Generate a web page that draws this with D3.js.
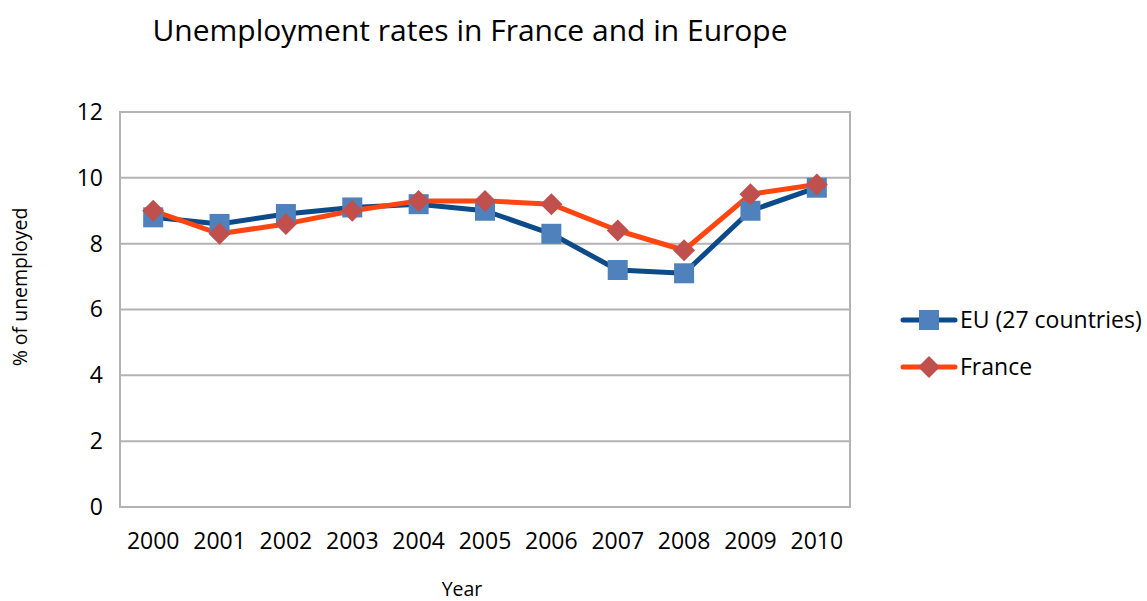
<!DOCTYPE html>
<html>
<head>
<meta charset="utf-8">
<script src="https://cdn.jsdelivr.net/npm/d3@7"></script>
<style>
  body { margin: 0; background: #fff; }
  svg { display: block; font-family: "Open Sans", "Liberation Sans", sans-serif; }
</style>
</head>
<body>
<svg id="chart" width="1147" height="601"></svg>
<script>
// Unemployment rates, % of labour force
const years = ["2000","2001","2002","2003","2004","2005","2006","2007","2008","2009","2010"];
const euValues = [8.8, 8.6, 8.9, 9.1, 9.2, 9.0, 8.3, 7.2, 7.1, 9.0, 9.7];
const franceValues = [9.0, 8.3, 8.6, 9.0, 9.3, 9.3, 9.2, 8.4, 7.8, 9.5, 9.8];
const yTicks = [0, 2, 4, 6, 8, 10, 12];
const seriesNames = ["EU (27 countries)", "France"];

const svg = d3.select("#chart");
const plot = { left: 120, right: 850, top: 112, bottom: 507 };

const x = d3.scaleBand().domain(years).range([plot.left, plot.right]);
const y = d3.scaleLinear().domain([0, 12]).range([plot.bottom, plot.top]);

// Title
svg.append("text")
  .attr("x", 470).attr("y", 41)
  .attr("text-anchor", "middle")
  .attr("font-size", 30)
  .attr("fill", "#000")
  .text("Unemployment rates in France and in Europe");

// Horizontal gridlines
svg.append("g")
  .selectAll("line")
  .data(yTicks)
  .join("line")
  .attr("x1", plot.left).attr("x2", plot.right)
  .attr("y1", d => y(d)).attr("y2", d => y(d))
  .attr("stroke", "#b3b3b3").attr("stroke-width", 2);

// Plot frame
svg.append("rect")
  .attr("x", plot.left).attr("y", plot.top)
  .attr("width", plot.right - plot.left).attr("height", plot.bottom - plot.top)
  .attr("fill", "none").attr("stroke", "#b3b3b3").attr("stroke-width", 2);

// Y axis
const yAxis = svg.append("g")
  .attr("transform", `translate(${plot.left},0)`)
  .call(d3.axisLeft(y).tickValues(yTicks).tickSize(0).tickPadding(17));
yAxis.select(".domain").remove();
yAxis.selectAll("text").attr("font-size", 23).attr("fill", "#000")
  .attr("font-family", "\"Open Sans\", sans-serif");

// X axis
const xAxis = svg.append("g")
  .attr("transform", `translate(0,${plot.bottom})`)
  .call(d3.axisBottom(x).tickSize(0).tickPadding(26));
xAxis.select(".domain").remove();
xAxis.selectAll("text").attr("font-size", 23).attr("fill", "#000")
  .attr("font-family", "\"Open Sans\", sans-serif");

// Axis titles
svg.append("text")
  .attr("x", 462).attr("y", 596)
  .attr("text-anchor", "middle").attr("font-size", 19.5)
  .text("Year");
svg.append("text")
  .attr("transform", "translate(27,287) rotate(-90)")
  .attr("text-anchor", "middle").attr("font-size", 19.5)
  .text("% of unemployed");

const cx = d => x(d) + x.bandwidth() / 2;
const line = d3.line().x((d, i) => cx(years[i])).y(d => y(d));

const series = [
  { name: seriesNames[0], values: euValues, stroke: "#0c4a8a", fill: "#4f81bd", marker: "square" },
  { name: seriesNames[1], values: franceValues, stroke: "#ff4510", fill: "#c0504d", marker: "diamond" }
];

function drawMarker(g, type, px, py, fill) {
  if (type === "square") {
    g.append("rect").attr("x", px - 10).attr("y", py - 10)
      .attr("width", 20).attr("height", 20).attr("fill", fill);
  } else {
    const r = 11;
    g.append("path")
      .attr("d", `M${px},${py - r}L${px + r},${py}L${px},${py + r}L${px - r},${py}Z`)
      .attr("fill", fill);
  }
}

series.forEach(s => {
  svg.append("path")
    .datum(s.values)
    .attr("d", line)
    .attr("fill", "none")
    .attr("stroke", s.stroke)
    .attr("stroke-width", 5)
    .attr("stroke-linejoin", "round");
});
series.forEach(s => {
  const g = svg.append("g");
  s.values.forEach((v, i) => drawMarker(g, s.marker, cx(years[i]), y(v), s.fill));
});

// Legend
const legend = svg.append("g");
series.forEach((s, i) => {
  const ly = 320 + i * 47;
  legend.append("line")
    .attr("x1", 903).attr("x2", 955).attr("y1", ly).attr("y2", ly)
    .attr("stroke", s.stroke).attr("stroke-width", 5).attr("stroke-linecap", "round");
  drawMarker(legend, s.marker, 929, ly, s.fill);
  legend.append("text")
    .attr("x", 960).attr("y", ly + 8)
    .attr("font-size", 23)
    .text(s.name);
});
</script>
</body>
</html>
